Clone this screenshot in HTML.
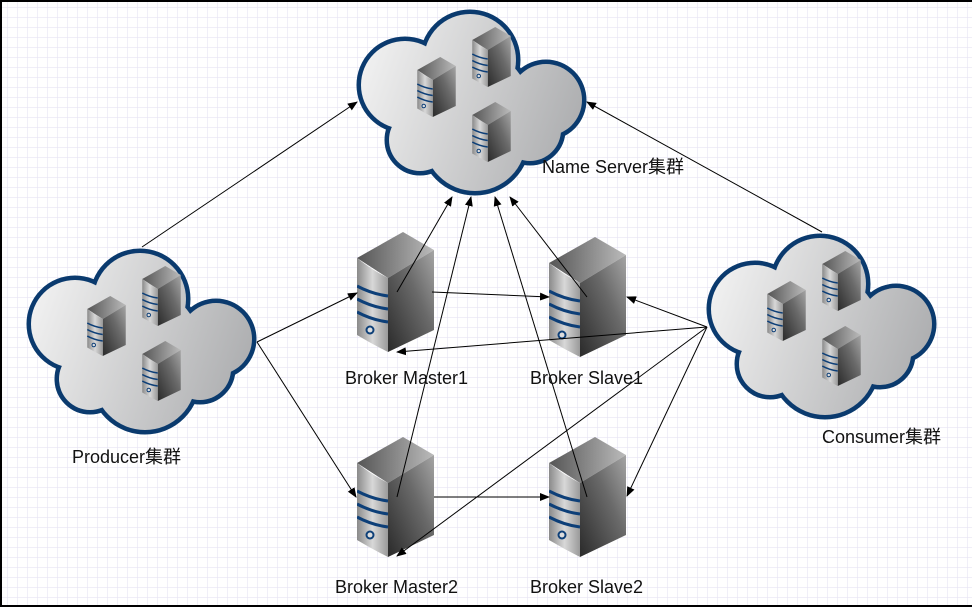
<!DOCTYPE html>
<html><head><meta charset="utf-8"><style>
html,body{margin:0;padding:0;}
body{width:972px;height:607px;overflow:hidden;background:#fff;}
svg{display:block}
text{font-family:"Liberation Sans","Noto Sans CJK SC",sans-serif;font-size:18px;fill:#111;}
</style></head><body>
<svg width="972" height="607" viewBox="0 0 972 607" xmlns="http://www.w3.org/2000/svg">
<defs>
<pattern id="grid" x="7" y="7" width="10" height="10" patternUnits="userSpaceOnUse">
<path d="M0 0H10M0 0V10" stroke="#e6e4f4" stroke-width="1.2" fill="none"/>
</pattern>
<linearGradient id="cg" gradientUnits="userSpaceOnUse" x1="0" y1="60" x2="230" y2="140">
<stop offset="0" stop-color="#f2f2f2"/><stop offset="1" stop-color="#a9aaac"/>
</linearGradient>
<linearGradient id="fr" x1="0" y1="0" x2="1" y2="0">
<stop offset="0" stop-color="#8a8a8a"/><stop offset="0.5" stop-color="#d8d8d8"/><stop offset="1" stop-color="#9a9a9a"/>
</linearGradient>
<linearGradient id="sd" x1="0" y1="1" x2="1" y2="0">
<stop offset="0" stop-color="#2a2a2a"/><stop offset="0.6" stop-color="#6a6a6a"/><stop offset="1" stop-color="#a5a5a5"/>
</linearGradient>
<linearGradient id="tp" x1="0" y1="0" x2="1" y2="0">
<stop offset="0" stop-color="#555"/><stop offset="1" stop-color="#bbb"/>
</linearGradient>
<symbol id="srv" viewBox="0 0 77 120">
<polygon points="0,26 46,0 77,18 31,46" fill="url(#tp)"/>
<polygon points="31,46 77,18 77,98 31,120" fill="url(#sd)"/>
<path d="M0,26 Q15,38 31,46 L31,120 Q15,112 0,103 Z" fill="url(#fr)"/>
<path d="M0,54 Q15,62 31,64" stroke="#0d3f78" stroke-width="3" fill="none"/>
<path d="M0,67 Q15,75 31,77" stroke="#0d3f78" stroke-width="3" fill="none"/>
<path d="M0,80 Q15,88 31,90" stroke="#0d3f78" stroke-width="3" fill="none"/>
<circle cx="13" cy="98" r="4.5" fill="#0d3f78"/><circle cx="13" cy="98" r="2.5" fill="#ddd"/>
</symbol>
<symbol id="cloud" viewBox="0 0 230 190" overflow="visible">
<g stroke="#0a3a6e" stroke-width="9" fill="#0a3a6e">
<circle cx="113" cy="52" r="46"/><circle cx="48" cy="77" r="44"/><circle cx="189" cy="92" r="36"/>
<circle cx="63" cy="132" r="31"/><circle cx="118" cy="132" r="51"/><circle cx="173" cy="122" r="31"/><circle cx="113" cy="100" r="60"/>
</g>
<g fill="url(#cg)">
<circle cx="113" cy="52" r="46"/><circle cx="48" cy="77" r="44"/><circle cx="189" cy="92" r="36"/>
<circle cx="63" cy="132" r="31"/><circle cx="118" cy="132" r="51"/><circle cx="173" cy="122" r="31"/><circle cx="113" cy="100" r="60"/>
</g>
<use href="#srv" x="60" y="49" width="39" height="60"/>
<use href="#srv" x="115" y="19" width="39" height="60"/>
<use href="#srv" x="115" y="94" width="39" height="60"/>
</symbol>
<marker id="ar" markerWidth="10" markerHeight="8" refX="9" refY="4" orient="auto" markerUnits="userSpaceOnUse">
<path d="M0,0 L10,4 L0,8 Z" fill="#000"/>
</marker>
</defs>
<rect width="972" height="607" fill="url(#grid)"/>
<rect x="0" y="0" width="972" height="2" fill="#000"/>
<rect x="0" y="0" width="2" height="607" fill="#000"/>
<rect x="0" y="605" width="972" height="2" fill="#000"/>

<use href="#cloud" x="357" y="8" width="230" height="190"/>
<use href="#cloud" x="27" y="247" width="230" height="190"/>
<use href="#cloud" x="707" y="232" width="230" height="190"/>

<use href="#srv" x="357" y="232" width="77" height="120"/>
<use href="#srv" x="549" y="237" width="77" height="120"/>
<use href="#srv" x="357" y="437" width="77" height="120"/>
<use href="#srv" x="549" y="437" width="77" height="120"/>

<g stroke="#000" stroke-width="1" fill="none" marker-end="url(#ar)">
<line x1="142" y1="247" x2="357" y2="102"/>
<line x1="822" y1="232" x2="587" y2="102"/>
<line x1="257" y1="342" x2="357" y2="293"/>
<line x1="257" y1="342" x2="356" y2="497"/>
<line x1="397" y1="292" x2="452" y2="197"/>
<line x1="587" y1="297" x2="510" y2="197"/>
<line x1="397" y1="497" x2="471" y2="197"/>
<line x1="587" y1="497" x2="495" y2="197"/>
<line x1="432" y1="292" x2="549" y2="297"/>
<line x1="434" y1="497" x2="549" y2="497"/>
<line x1="707" y1="327" x2="627" y2="297"/>
<line x1="707" y1="327" x2="397" y2="352"/>
<line x1="707" y1="327" x2="397" y2="556"/>
<line x1="707" y1="327" x2="627" y2="496"/>
</g>

<text x="542" y="173">Name Server集群</text>
<text x="345" y="384">Broker Master1</text>
<text x="530" y="384">Broker Slave1</text>
<text x="335" y="593">Broker Master2</text>
<text x="530" y="593">Broker Slave2</text>
<text x="72" y="463">Producer集群</text>
<text x="822" y="443">Consumer集群</text>
</svg>
</body></html>
